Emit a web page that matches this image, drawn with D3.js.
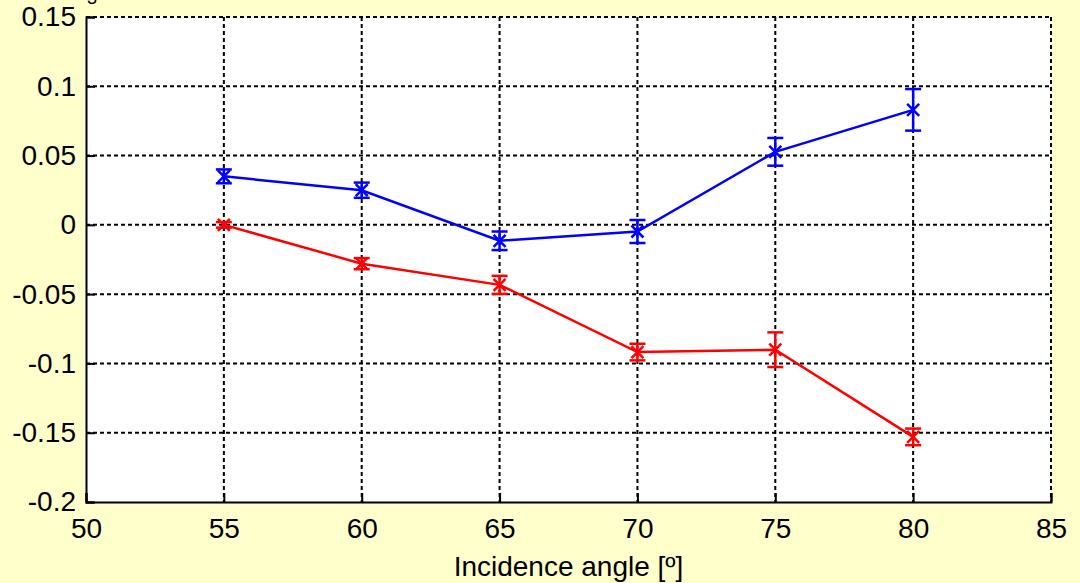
<!DOCTYPE html>
<html>
<head>
<meta charset="utf-8">
<script src="https://cdn.jsdelivr.net/npm/d3@7"></script>
<style>
  body { margin: 0; background: #ffffcc; }
  svg { display: block; font-family: "Liberation Sans", Arial, sans-serif; }
</style>
</head>
<body>
<div id="chart"></div>
<script>
// data
const angles = [55, 60, 65, 70, 75, 80];
const blueValues = [0.035, 0.025, -0.0115, -0.0048, 0.0527, 0.083];
const blueErrors = [0.005, 0.0055, 0.0067, 0.0083, 0.010, 0.015];
const redValues = [0.0, -0.028, -0.0433, -0.0918, -0.0901, -0.153];
const redErrors = [0.002, 0.004, 0.0065, 0.006, 0.0125, 0.006];
const xTicks = [50, 55, 60, 65, 70, 75, 80, 85];
const yTicks = [-0.2, -0.15, -0.1, -0.05, 0, 0.05, 0.1, 0.15];
const xLabel = "Incidence angle [º]";

const W = 1080, H = 583;
const margin = {top: 17, right: 29, bottom: 81, left: 86};
const width = W - margin.left - margin.right;
const height = H - margin.top - margin.bottom;

const svg = d3.select("#chart").append("svg")
  .attr("width", W)
  .attr("height", H);

svg.append("rect").attr("width", W).attr("height", H).attr("fill", "#ffffcc");

// texte coupé en haut (comme dans l'original)
svg.append("text")
  .attr("x", 92)
  .attr("y", 4)
  .attr("text-anchor", "middle")
  .style("font-size", "18px")
  .text("3");

const g = svg.append("g").attr("transform", `translate(${margin.left},${margin.top})`);

const x = d3.scaleLinear().domain([50, 85]).range([0, width]);
const y = d3.scaleLinear().domain([-0.2, 0.15]).range([height, 0]);

g.append("rect")
  .attr("width", width).attr("height", height)
  .attr("fill", "white");

// grille pointillée
const dash = "4,3";
g.selectAll(".gx").data(xTicks.slice(1)).enter().append("line")
  .attr("x1", d => x(d)).attr("x2", d => x(d))
  .attr("y1", 0).attr("y2", height)
  .attr("stroke", "black").attr("stroke-width", 2).attr("stroke-dasharray", dash);
g.selectAll(".gy").data(yTicks.slice(1)).enter().append("line")
  .attr("x1", 0).attr("x2", width)
  .attr("y1", d => y(d)).attr("y2", d => y(d))
  .attr("stroke", "black").attr("stroke-width", 2).attr("stroke-dasharray", dash);

// axes
const fmt = d => d === 0 ? "0" : String(+d.toFixed(2));
const xAxis = g.append("g")
  .attr("transform", `translate(0,${height})`)
  .call(d3.axisBottom(x).tickValues(xTicks).tickSize(-9).tickPadding(16).tickFormat(d => d));
const yAxis = g.append("g")
  .call(d3.axisLeft(y).tickValues(yTicks).tickSize(-9).tickPadding(10).tickFormat(fmt));

[xAxis, yAxis].forEach(a => {
  a.select(".domain").attr("stroke", "black").attr("stroke-width", 2);
  a.selectAll(".tick line").attr("stroke", "black").attr("stroke-width", 2);
  a.selectAll("text").attr("fill", "black").style("font-size", "28px")
    .style("font-family", "'Liberation Sans', Arial, sans-serif");
});

g.append("text")
  .attr("x", width / 2)
  .attr("y", height + 74)
  .attr("text-anchor", "middle")
  .style("font-size", "28px")
  .text(xLabel);

// séries avec barres d'erreur
function drawSeries(values, errors, color) {
  const pts = angles.map((a, i) => ({a, v: values[i], e: errors[i]}));
  g.append("path").datum(pts)
    .attr("fill", "none").attr("stroke", color).attr("stroke-width", 2.5)
    .attr("d", d3.line().x(d => x(d.a)).y(d => y(d.v)));

  const bars = g.selectAll(null).data(pts).enter().append("g")
    .attr("stroke", color).attr("stroke-width", 2.5).attr("fill", "none");
  bars.append("line")
    .attr("x1", d => x(d.a)).attr("x2", d => x(d.a))
    .attr("y1", d => y(d.v + d.e)).attr("y2", d => y(d.v - d.e));
  bars.append("line")
    .attr("x1", d => x(d.a) - 8).attr("x2", d => x(d.a) + 8)
    .attr("y1", d => y(d.v + d.e)).attr("y2", d => y(d.v + d.e));
  bars.append("line")
    .attr("x1", d => x(d.a) - 8).attr("x2", d => x(d.a) + 8)
    .attr("y1", d => y(d.v - d.e)).attr("y2", d => y(d.v - d.e));
  bars.append("path")
    .attr("d", d => {
      const cx = x(d.a), cy = y(d.v), s = 6;
      return `M${cx - s},${cy - s}L${cx + s},${cy + s}M${cx - s},${cy + s}L${cx + s},${cy - s}`;
    });
}

drawSeries(blueValues, blueErrors, "#0000ff");
drawSeries(redValues, redErrors, "#ff0000");
</script>
</body>
</html>
